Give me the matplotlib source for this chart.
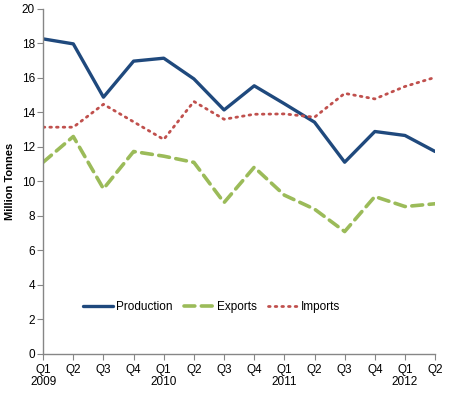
import matplotlib
matplotlib.use('Agg')
import matplotlib.pyplot as plt

plt.rcParams['font.family'] = ['Liberation Sans', 'DejaVu Sans']

# quarterly categories, Q1 2009 to Q2 2012
quarters = ['Q1\n2009', 'Q2', 'Q3', 'Q4', 'Q1\n2010', 'Q2', 'Q3', 'Q4',
            'Q1\n2011', 'Q2', 'Q3', 'Q4', 'Q1\n2012', 'Q2']

production = [18.26, 17.97, 14.88, 16.97, 17.14, 15.94, 14.14, 15.54,
              14.50, 13.43, 11.11, 12.89, 12.66, 11.73]
exports = [11.11, 12.60, 9.57, 11.73, 11.46, 11.10, 8.77, 10.82,
           9.20, 8.39, 7.09, 9.12, 8.54, 8.70]
imports = [13.14, 13.14, 14.47, 13.45, 12.43, 14.63, 13.60, 13.89,
           13.91, 13.72, 15.10, 14.78, 15.50, 16.03]

x = list(range(len(quarters)))

fig = plt.figure(figsize=(4.59, 4.03), dpi=100)
ax = fig.add_axes([0.094, 0.122, 0.854, 0.856])

ax.plot(x, production, color='#1F497D', lw=2.4, label='Production',
        solid_capstyle='round')
ax.plot(x, exports, color='#9BBB59', lw=2.6, ls=(0, (3, 1.8)), label='Exports',
        dash_capstyle='round')
ax.plot(x, imports, color='#C0504D', lw=2.0, ls=(0, (0.6, 1.8)), label='Imports',
        dash_capstyle='round')

ax.set_xlim(0, 13)
ax.set_ylim(0, 20)
ax.set_yticks(range(0, 21, 2))
ax.set_xticks(x)
ax.set_xticklabels(quarters, fontsize=8.5, linespacing=1.05)
ax.tick_params(axis='y', labelsize=8.5, length=4, color='#868686', pad=2)
ax.tick_params(axis='x', length=4, color='#868686', pad=3)

for side in ['top', 'right']:
    ax.spines[side].set_visible(False)
for side in ['left', 'bottom']:
    ax.spines[side].set_color('#868686')
    ax.spines[side].set_linewidth(1.0)

ax.set_ylabel('Million Tonnes', fontsize=8, fontweight='bold')
ax.yaxis.set_label_coords(-0.072, 0.5)

ax.legend(loc='center', bbox_to_anchor=(0.43, 0.135), ncol=3, frameon=False,
          fontsize=8.5, handlelength=2.6, handletextpad=0.25, columnspacing=0.9)

fig.savefig('out.png', dpi=100)
